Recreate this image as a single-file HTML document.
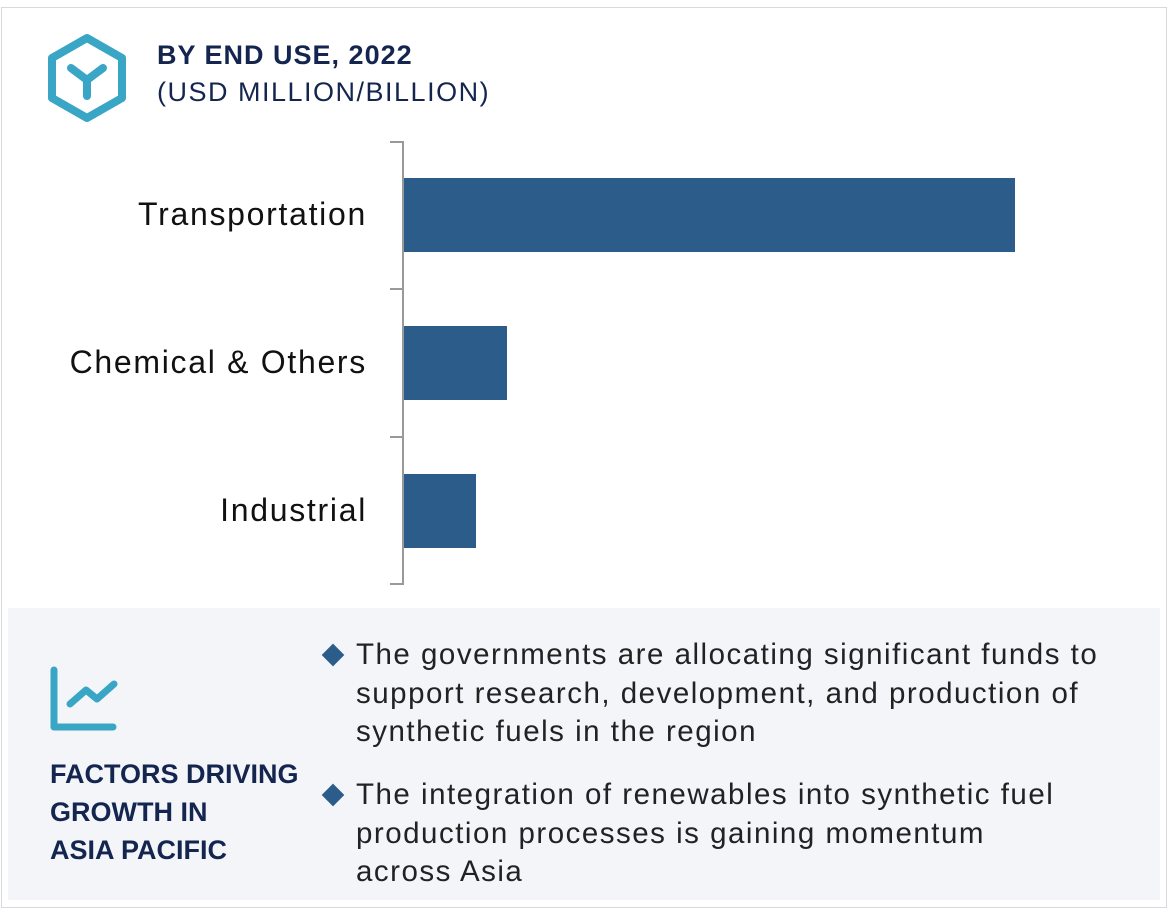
<!DOCTYPE html>
<html><head><style>
body{margin:0;width:1170px;height:918px;background:#fff;font-family:"Liberation Sans",sans-serif;position:relative;overflow:hidden}
.a{position:absolute}
.lbl{position:absolute;right:803px;font-size:32px;color:#111;white-space:nowrap;letter-spacing:1.7px}
.bul{position:absolute;left:356px;font-size:29.5px;line-height:38.5px;color:#222;white-space:nowrap;letter-spacing:1.5px}
.dm{position:absolute;width:16px;height:16px;background:#2c5d8a;transform:rotate(45deg)}
</style></head><body>
<div class="a" style="left:1px;top:7px;width:1166px;height:901px;border:1px solid #d8d8e0;box-sizing:border-box"></div>
<svg class="a" style="left:0;top:0" width="200" height="140">
<polygon points="87,38 122,58 122,98 87,118 52,98 52,58" fill="none" stroke="#3aa6c6" stroke-width="8" stroke-linejoin="round"/>
<path d="M71,68 L87,80 L103,68 M87,80 L87,96" fill="none" stroke="#3aa6c6" stroke-width="8" stroke-linecap="round"/>
</svg>
<div class="a" style="left:157px;top:40px;font-size:27px;font-weight:bold;color:#14254f;letter-spacing:1px">BY END USE, 2022</div>
<div class="a" style="left:157px;top:77px;font-size:27px;color:#14254f;letter-spacing:1.5px">(USD MILLION/BILLION)</div>
<div class="a" style="left:402px;top:141px;width:2px;height:444px;background:#999"></div>
<div class="a" style="left:390px;top:141px;width:13px;height:2px;background:#999"></div>
<div class="a" style="left:390px;top:288px;width:13px;height:2px;background:#999"></div>
<div class="a" style="left:390px;top:436px;width:13px;height:2px;background:#999"></div>
<div class="a" style="left:390px;top:583px;width:13px;height:2px;background:#999"></div>
<div class="a" style="left:404px;top:178px;width:611px;height:74px;background:#2c5d8a"></div>
<div class="a" style="left:404px;top:326px;width:103px;height:74px;background:#2c5d8a"></div>
<div class="a" style="left:404px;top:474px;width:72px;height:74px;background:#2c5d8a"></div>
<div class="lbl" style="top:196px">Transportation</div>
<div class="lbl" style="top:344px">Chemical &amp; Others</div>
<div class="lbl" style="top:492px">Industrial</div>
<div class="a" style="left:8px;top:608px;width:1152px;height:292px;background:#f3f5f9"></div>
<svg class="a" style="left:0;top:600px" width="140" height="140">
<path d="M54,70 L54,127 L113,127" fill="none" stroke="#3aa6c6" stroke-width="7" stroke-linecap="round" stroke-linejoin="round"/>
<path d="M70,104 L86,90 L97,99 L114,84" fill="none" stroke="#3aa6c6" stroke-width="7" stroke-linecap="round" stroke-linejoin="round"/>
</svg>
<div class="a" style="left:50px;top:755px;font-size:27px;line-height:38px;font-weight:bold;color:#14254f">FACTORS DRIVING<br>GROWTH IN<br>ASIA PACIFIC</div>
<div class="dm" style="left:325px;top:647px"></div>
<div class="dm" style="left:325px;top:787px"></div>
<div class="bul" style="top:636px">The governments are allocating significant funds to<br>support research, development, and production of<br>synthetic fuels in the region</div>
<div class="bul" style="top:776px">The integration of renewables into synthetic fuel<br>production processes is gaining momentum<br>across Asia</div>
</body></html>
